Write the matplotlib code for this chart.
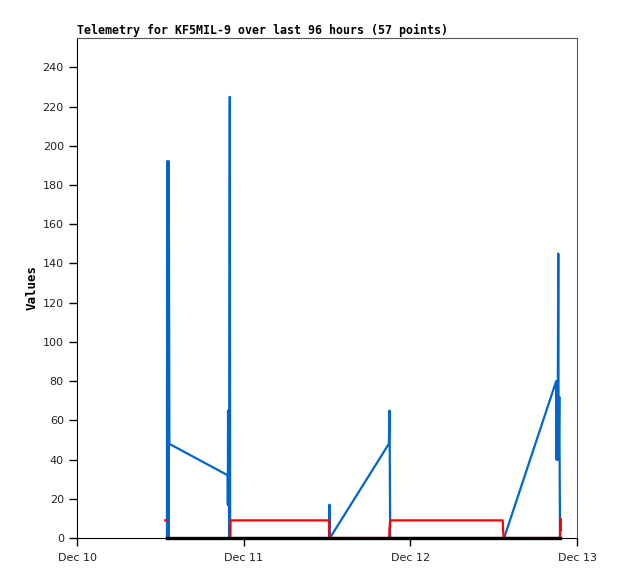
"""Telemetry chart for KF5MIL-9: three channels over the last days."""
from datetime import datetime, timedelta

import matplotlib

matplotlib.use("Agg")
import matplotlib.pyplot as plt  # noqa: E402
import matplotlib.dates as mdates  # noqa: E402

START = datetime(2023, 12, 10)
NAN = float("nan")

# hours after Dec 10 00:00, value
blue_hours = [12.95, 12.98, 13.02, 13.06, 13.1, 13.14, 13.18, 13.22, 13.3, 21.7, 21.72,
              21.75, 21.8, 21.85, 21.9, 22.0, 22.05,
              36.3, 36.35, 36.42, 44.9, 45.0, 45.1, 61.5, 69.0, 69.05, 69.1, 69.2,
              69.3, 69.35, 69.45, 69.55]
blue_vals = [0, 192, 0, 192, 0, 192, 0, 192, 48, 32, 17,
             65, 17, 65, 0, 225, 0,
             0, 17, 0, 48, 65, 0, 0, 80, 40, 80, 40,
             145, 40, 72, 0]

red_hours = [12.7, 12.8, 12.85, 22.05, 22.1, 36.3, 36.35, 44.95, 45.0, 45.1, 61.3,
             61.35, 61.45, 69.55, 69.6, 69.65]
red_vals = [9, 9, NAN, 0, 9, 9, 0, 0, 5, 9, 9,
            4, 0, 0, 10, 4]

black_hours = [12.9, 69.6]
black_vals = [0, 0]

TITLE = "Telemetry for KF5MIL-9 over last 96 hours (57 points)"


def to_dates(hours):
    return [START + timedelta(hours=h) for h in hours]


fig = plt.figure(figsize=(6.18, 5.79), dpi=100)
ax = fig.add_axes([0.1246, 0.0708, 0.8091, 0.8636])

ax.plot(to_dates(blue_hours), blue_vals, color="#0066cc", lw=1.6)
ax.plot(to_dates(red_hours), red_vals, color="#ff0000", lw=1.6)
ax.plot(to_dates(black_hours), black_vals, color="black", lw=2.4,
        clip_on=False, zorder=5)

ax.set_xlim(START, START + timedelta(days=3))
ax.set_ylim(0, 255)
ax.set_yticks(range(0, 241, 20))
ax.xaxis.set_major_locator(mdates.DayLocator())
ax.xaxis.set_major_formatter(mdates.DateFormatter("%b %d"))
ax.tick_params(direction="out", length=6, width=1, labelsize=8, colors="black")
ax.tick_params(axis="x", pad=5)
for lbl in ax.get_xticklabels() + ax.get_yticklabels():
    lbl.set_family("DejaVu Sans")
    lbl.set_color("#222222")

for side in ("top", "right"):
    ax.spines[side].set_color("#555555")
for side in ("left", "bottom"):
    ax.spines[side].set_color("black")

ax.set_ylabel("Values", family="DejaVu Sans Mono", fontweight="bold", fontsize=9,
              labelpad=3)
ax.set_title(TITLE, loc="left", family="DejaVu Sans Mono", fontweight="bold",
             fontsize=8.35, pad=3)

fig.savefig("out.png", dpi=100)
